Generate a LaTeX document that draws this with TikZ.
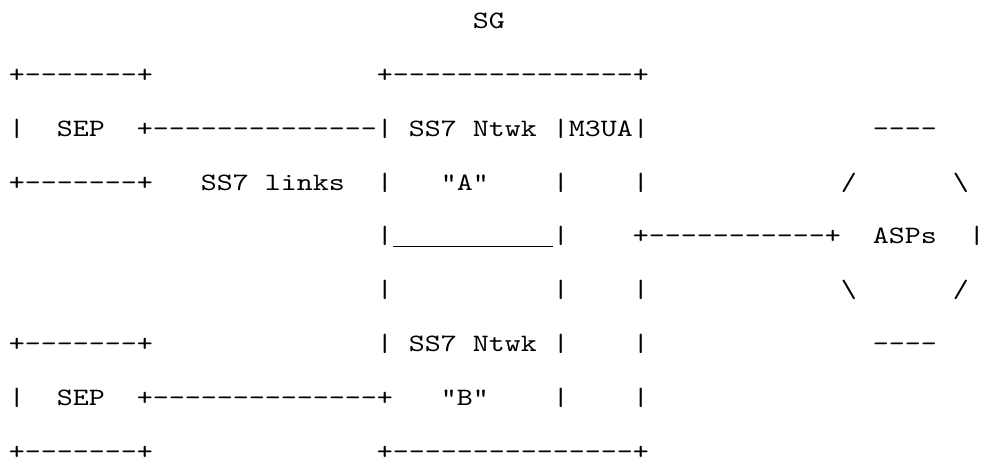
\documentclass[tikz,border=0pt]{standalone}
\usepackage{fontspec}
\newfontfamily\asciifont{lmmono10-regular.otf}[FakeStretch=1.219]

\begin{document}
\begin{tikzpicture}[x=8pt,y=-26.9pt]
\tikzstyle{ascii}=[anchor=base west,inner sep=0pt,text=black,font=\asciifont\fontsize{12.5pt}{14pt}\selectfont]
\tikzstyle{uline}=[line width=0.6pt,black]
\useasboundingbox (-4.25pt,14.3pt) rectangle (487.25pt,-216.7pt);

% SG title
\node[ascii](sg) at (29,0) {SG};

% top edges
\node[ascii](sepAtop) at (0,1) {+-------+};
\node[ascii](sgtop) at (23,1) {+---------------+};

% SEP A and link to network A
\node[ascii](sepAl) at (0,2) {|};
\node[ascii](sepA) at (3,2) {SEP};
\node[ascii](linkA) at (8,2) {+--------------|};
\node[ascii](ss7A) at (25,2) {SS7};
\node[ascii](ntwkA) at (29,2) {Ntwk};
\node[ascii](m3ua) at (34,2) {|M3UA|};
\node[ascii](asptop) at (54,2) {----};

\node[ascii](sepAbot) at (0,3) {+-------+};
\node[ascii](ss7links) at (12,3) {SS7};
\node[ascii](links) at (16,3) {links};
\node[ascii](sgl3) at (23,3) {|};
\node[ascii](nameA) at (27,3) {"A"};
\node[ascii](mid3) at (34,3) {|};
\node[ascii](sgr3) at (39,3) {|};
\node[ascii](aspul) at (52,3) {/};
\node[ascii](aspur) at (59,3) {\textbackslash};

% divider and link to the ASPs
\node[ascii](divl) at (23,4) {|};
\node[ascii](divr) at (34,4) {|};
\draw[uline] ([yshift=-1.5pt]24,4) -- ([yshift=-1.5pt]34,4);
\node[ascii](linkasp) at (39,4) {+-----------+};
\node[ascii](asps) at (54,4) {ASPs};
\node[ascii](aspr) at (60,4) {|};

\node[ascii](sgl5) at (23,5) {|};
\node[ascii](mid5) at (34,5) {|};
\node[ascii](sgr5) at (39,5) {|};
\node[ascii](aspll) at (52,5) {\textbackslash};
\node[ascii](asplr) at (59,5) {/};

% SEP B and link to network B
\node[ascii](sepBtop) at (0,6) {+-------+};
\node[ascii](sgl6) at (23,6) {|};
\node[ascii](ss7B) at (25,6) {SS7};
\node[ascii](ntwkB) at (29,6) {Ntwk};
\node[ascii](mid6) at (34,6) {|};
\node[ascii](sgr6) at (39,6) {|};
\node[ascii](aspbot) at (54,6) {----};

\node[ascii](sepBl) at (0,7) {|};
\node[ascii](sepB) at (3,7) {SEP};
\node[ascii](linkB) at (8,7) {+--------------+};
\node[ascii](nameB) at (27,7) {"B"};
\node[ascii](mid7) at (34,7) {|};
\node[ascii](sgr7) at (39,7) {|};

% bottom edges
\node[ascii](sepBbot) at (0,8) {+-------+};
\node[ascii](sgbot) at (23,8) {+---------------+};
\end{tikzpicture}
\end{document}
